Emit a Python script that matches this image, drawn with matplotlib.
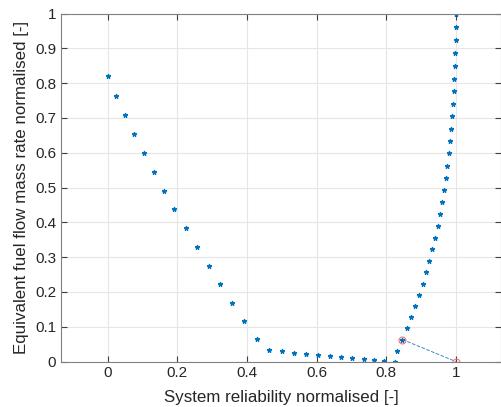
import numpy as np
from matplotlib import pyplot as plt

plt.rcParams['font.family'] = ['Liberation Sans', 'DejaVu Sans']

# pareto front points
rel = [0.0, 0.025, 0.050, 0.076, 0.103, 0.132, 0.162, 0.191, 0.224, 0.256,
       0.290, 0.324, 0.358, 0.393, 0.428, 0.464, 0.500, 0.535, 0.570, 0.605,
       0.639, 0.671, 0.703, 0.735, 0.764, 0.793, 0.825,
       0.832, 0.847, 0.859, 0.872, 0.883, 0.895, 0.905, 0.915, 0.924, 0.933,
       0.941, 0.948, 0.955, 0.961, 0.966, 0.971, 0.976, 0.981, 0.984, 0.987,
       0.989, 0.992, 0.994, 0.996, 0.998, 0.999, 1.0, 1.0, 1.0]
fuel = [0.820, 0.764, 0.709, 0.655, 0.600, 0.545, 0.491, 0.437, 0.383, 0.329,
        0.275, 0.223, 0.169, 0.116, 0.064, 0.033, 0.030, 0.025, 0.022, 0.019,
        0.016, 0.013, 0.010, 0.007, 0.005, 0.002, 0.0,
        0.031, 0.063, 0.095, 0.127, 0.160, 0.191, 0.224, 0.256, 0.290, 0.323,
        0.356, 0.390, 0.424, 0.457, 0.493, 0.527, 0.563, 0.598, 0.633, 0.669,
        0.705, 0.740, 0.777, 0.813, 0.850, 0.887, 0.925, 0.962, 1.0]

# chosen point and utopia point
sel = [0.847, 0.063]
utopia = [1.0, 0.0]

blue = (0, 0.447, 0.741)

fig = plt.figure(figsize=(5.02, 4.07), dpi=100)
ax = fig.add_axes([61/502, 1-361.5/407, 440/502, 348/407])

ax.plot(rel, fuel, '*', color=blue, markersize=3.5, markeredgewidth=0.8)
ax.plot([sel[0], utopia[0]], [sel[1], utopia[1]], '--', color=blue, linewidth=0.7, alpha=0.8)
ax.plot([sel[0], utopia[0]], [sel[1], utopia[1]], 'o', markerfacecolor='none',
        markeredgecolor=(0.95, 0.45, 0.45), markersize=5, markeredgewidth=0.8)

ax.set_xlim(-0.134, 1.13)
ax.set_ylim(0, 1)
ax.set_xticks([0, 0.2, 0.4, 0.6, 0.8, 1])
ax.set_xticklabels(['0', '0.2', '0.4', '0.6', '0.8', '1'])
ax.set_yticks(np.arange(0, 1.01, 0.1))
ax.set_yticklabels(['0', '0.1', '0.2', '0.3', '0.4', '0.5', '0.6', '0.7', '0.8', '0.9', '1'])
ax.tick_params(direction='in', top=True, right=True, labelsize=11, length=4,
               color='#404040', labelcolor='#262626')
ax.grid(True, color='#e6e6e6', linewidth=0.8)
ax.set_axisbelow(True)
for s in ax.spines.values():
    s.set_color('#808080')
    s.set_linewidth(0.8)

ax.set_xlabel("System reliability normalised [-]", fontsize=12.2, color='#262626', labelpad=7)
ax.set_ylabel("Equivalent fuel flow mass rate normalised [-]", fontsize=12.2, color='#262626', labelpad=4)

plt.savefig('out.png', dpi=100)
